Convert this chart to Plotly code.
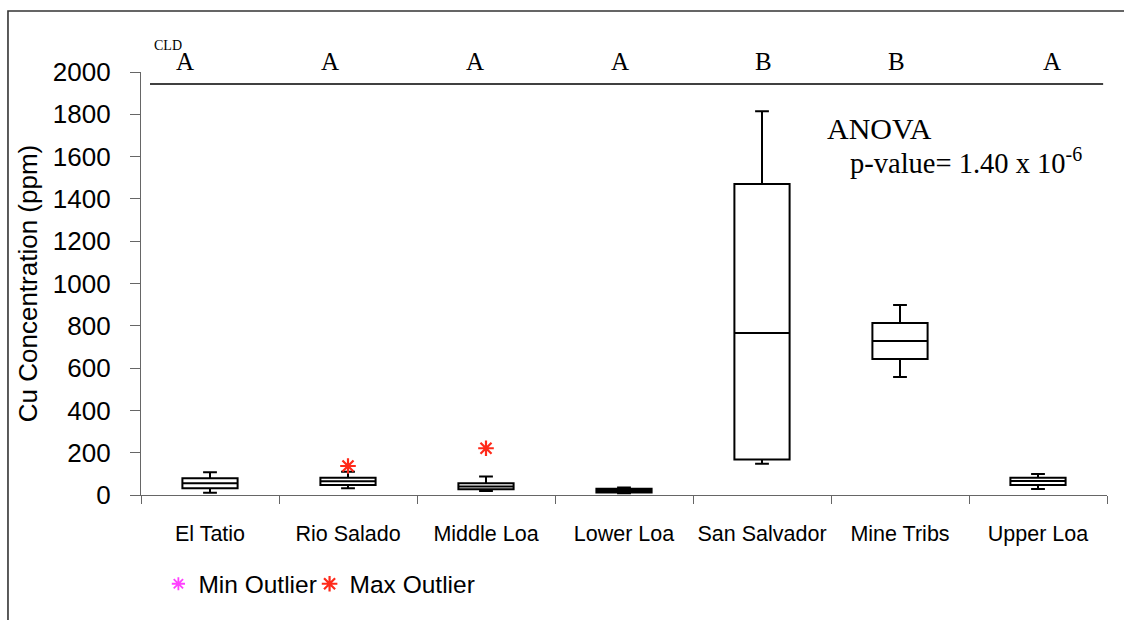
import plotly.graph_objects as go

# Copper concentration summary per site (ppm)
sites = ["El Tatio", "Rio Salado", "Middle Loa", "Lower Loa", "San Salvador", "Mine Tribs", "Upper Loa"]
lower_whisker = [11, 32, 19, 8, 148, 558, 28]
q1_vals = [32, 47, 27, 12, 168, 643, 47]
median_vals = [55, 65, 40, 20, 766, 728, 66]
q3_vals = [79, 82, 55, 30, 1470, 813, 82]
upper_whisker = [107, 110, 87, 36, 1815, 898, 99]

# Outliers above the upper whisker
max_outlier_sites = ["Rio Salado", "Middle Loa"]
max_outlier_vals = [137, 221]

# Compact letter display (Tukey groups)
cld_letters = ["A", "A", "A", "A", "B", "B", "A"]

y_ticks = list(range(0, 2001, 200))

# horizontal placement of the group letters across the top strip (paper units)
cld_x = [0.0455, 0.1957, 0.3458, 0.4959, 0.6439, 0.7826, 0.9431]

MAX_RED = "#ff2a1a"
MIN_MAGENTA = "#ff40ff"

fig = go.Figure()

fig.add_trace(go.Box(
    x=sites,
    q1=q1_vals,
    median=median_vals,
    q3=q3_vals,
    lowerfence=lower_whisker,
    upperfence=upper_whisker,
    boxpoints=False,
    fillcolor="white",
    line=dict(color="black", width=2),
    width=0.4,
    whiskerwidth=0.25,
    showlegend=False,
    hoverinfo="skip",
))

fig.add_trace(go.Scatter(
    x=[None], y=[None],
    mode="markers",
    name="Min Outlier",
    legend="legend",
    marker=dict(symbol="asterisk-open", size=11, color=MIN_MAGENTA,
                line=dict(color=MIN_MAGENTA, width=1.8)),
))

fig.add_trace(go.Scatter(
    x=max_outlier_sites, y=max_outlier_vals,
    mode="markers",
    name="Max Outlier",
    legend="legend2",
    marker=dict(symbol="asterisk-open", size=13, color=MAX_RED,
                line=dict(color=MAX_RED, width=2.2)),
))

serif = "Liberation Serif, Times New Roman, serif"
sans = "Liberation Sans, Arial, sans-serif"

annotations = []
for xp, letter in zip(cld_x, cld_letters):
    annotations.append(dict(
        x=xp, xref="paper", y=1.026, yref="paper",
        text=letter, showarrow=False, xanchor="center", yanchor="middle",
        font=dict(family=serif, size=25, color="black"),
    ))
annotations.append(dict(
    x=0.0114, xref="paper", y=1.063, yref="paper",
    text="CLD", showarrow=False, xanchor="left", yanchor="middle",
    font=dict(family=serif, size=14, color="black"),
))
annotations.append(dict(
    x=0.708, xref="paper", y=0.8676, yref="paper",
    text="ANOVA", showarrow=False, xanchor="left", yanchor="middle",
    font=dict(family=serif, size=30, color="black"),
))
annotations.append(dict(
    x=0.7315, xref="paper", y=0.79, yref="paper",
    text="p-value= 1.40 x 10<sup>-6</sup>", showarrow=False, xanchor="left", yanchor="middle",
    font=dict(family=serif, size=28.5, color="black"),
))

shapes = [
    # separator line under the group letters
    dict(type="line", xref="paper", yref="paper", x0=0.0093, x1=0.996, y0=0.9716, y1=0.9716,
         line=dict(color="black", width=1.3)),
    # outer frame
    dict(type="rect", xref="paper", yref="paper", x0=-0.1377, x1=1.03, y0=-0.32, y1=1.1442,
         line=dict(color="#333333", width=1.6), fillcolor="rgba(0,0,0,0)"),
]

legend_style = dict(
    orientation="h", y=-0.21, xanchor="left", yanchor="middle",
    font=dict(family=sans, size=24.5, color="black"),
    itemwidth=30, tracegroupgap=0, bgcolor="rgba(0,0,0,0)",
)

fig.update_layout(
    width=1124, height=620,
    margin=dict(l=141, r=17, t=72, b=125),
    plot_bgcolor="white", paper_bgcolor="white",
    showlegend=True,
    legend=dict(x=0.018, **legend_style),
    legend2=dict(x=0.1745, **legend_style),
    annotations=annotations,
    shapes=shapes,
    xaxis=dict(
        type="category",
        showline=True, linecolor="#666666", linewidth=1.3,
        ticks="outside", tickson="boundaries", ticklen=8, tickcolor="#666666", tickwidth=1.3,
        tickangle=0,
        tickfont=dict(family=sans, size=21.5, color="black"),
        ticklabelstandoff=19,
        showgrid=False, zeroline=False,
        range=[-0.5, 6.5],
    ),
    yaxis=dict(
        range=[0, 2000],
        tickvals=y_ticks,
        showline=True, linecolor="#666666", linewidth=1.3,
        ticks="outside", ticklen=10, tickcolor="#666666", tickwidth=1.3,
        tickfont=dict(family=sans, size=26, color="black"),
        ticklabelstandoff=14,
        showgrid=False, zeroline=False,
        title=dict(text="Cu Concentration (ppm)", font=dict(family=sans, size=26, color="black"), standoff=7),
    ),
)

fig.write_html("out.html")
